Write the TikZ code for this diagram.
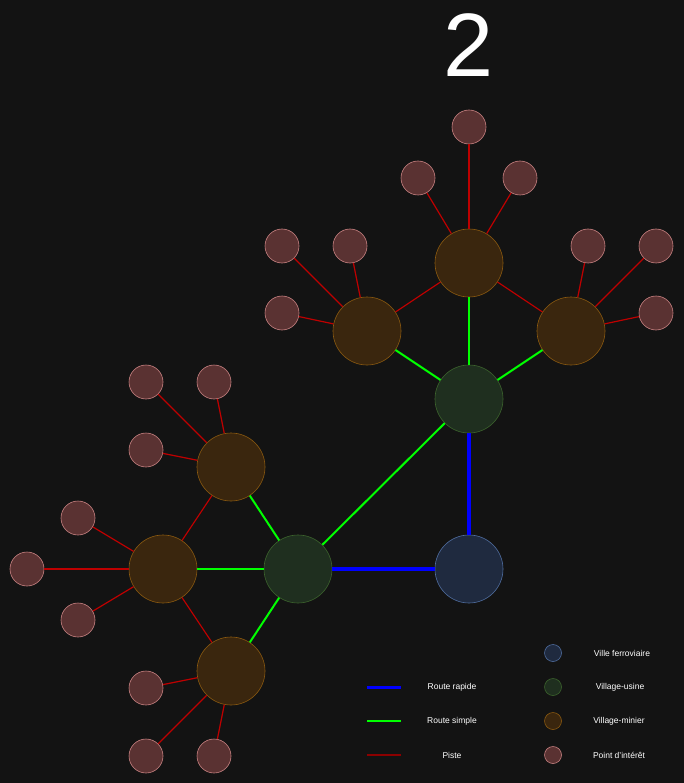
\documentclass[tikz,border=0pt]{standalone}
\usepackage{fontspec}
\setmainfont{Liberation Sans}
\definecolor{bg}{RGB}{19,19,19}
\definecolor{railf}{RGB}{31,42,63}\definecolor{raild}{RGB}{80,110,160}
\definecolor{factf}{RGB}{31,47,31}\definecolor{factd}{RGB}{60,100,45}
\definecolor{minef}{RGB}{58,38,14}\definecolor{mined}{RGB}{140,90,16}
\definecolor{poif}{RGB}{90,50,50}\definecolor{poid}{RGB}{200,130,130}
\definecolor{pistec}{RGB}{190,0,0}\definecolor{pistel}{RGB}{140,0,0}
\begin{document}
\begin{tikzpicture}[x=1pt,y=-1pt,
 rail/.style={circle,minimum size=68pt,inner sep=0,fill=railf,draw=raild,line width=0.6pt},
 fact/.style={circle,minimum size=68pt,inner sep=0,fill=factf,draw=factd,line width=0.6pt},
 mine/.style={circle,minimum size=68pt,inner sep=0,fill=minef,draw=mined,line width=0.6pt},
 poi/.style={circle,minimum size=34pt,inner sep=0,fill=poif,draw=poid,line width=0.6pt},
 fast/.style={draw=blue,line width=4pt},
 simple/.style={draw=green,line width=2pt},
 piste/.style={draw=pistec,line width=1.2pt},
 lab/.style={text=white,font=\fontsize{8.5}{10}\selectfont}]
\fill[bg] (0,0) rectangle (684,783);
\useasboundingbox (0,0) rectangle (684,783);
\node[text=white,font=\fontsize{90}{90}\selectfont] (title) at (469,45) {2};
\node[rail] (R) at (469,569) {};
\node[fact] (F1) at (469,399) {};
\node[fact] (F2) at (298,569) {};
\node[mine] (M1) at (469,263) {};
\node[mine] (M2) at (367,331) {};
\node[mine] (M3) at (571,331) {};
\node[mine] (M4) at (231,467) {};
\node[mine] (M5) at (163,569) {};
\node[mine] (M6) at (231,671) {};
\foreach \n/\x/\y in {a1/469/127,a2/418/178,a3/520/178,b1/282/246,b2/350/246,b3/282/313,c1/588/246,c2/656/246,c3/656/313,d1/146/382,d2/214/382,d3/146/450,e1/78/518,e2/27/569,e3/78/620,f1/146/688,f2/146/756,f3/214/756}
  \node[poi] (\n) at (\x,\y) {};
\foreach \a/\b in {M1/a1,M1/a2,M1/a3,M2/b1,M2/b2,M2/b3,M3/c1,M3/c2,M3/c3,M4/d1,M4/d2,M4/d3,M5/e1,M5/e2,M5/e3,M6/f1,M6/f2,M6/f3,M1/M2,M1/M3,M4/M5,M5/M6}
  \draw[piste] (\a) -- (\b);
\foreach \a/\b in {F1/M1,F1/M2,F1/M3,F1/F2,F2/M4,F2/M5,F2/M6}
  \draw[simple] (\a) -- (\b);
\draw[fast] (R) -- (F1);
\draw[fast] (R) -- (F2);
% legend
\coordinate (l1a) at (367,687); \coordinate (l1b) at (401,687);
\coordinate (l2a) at (367,721); \coordinate (l2b) at (401,721);
\coordinate (l3a) at (367,755); \coordinate (l3b) at (401,755);
\draw[fast,line width=3pt] (l1a) -- (l1b);
\draw[simple] (l2a) -- (l2b);
\draw[piste,draw=pistel] (l3a) -- (l3b);
\node[lab] (t1) at (452,687) {Route rapide};
\node[lab] (t2) at (452,721) {Route simple};
\node[lab] (t3) at (452,755) {Piste};
\node[rail,minimum size=17pt] (k1) at (553,653) {};
\node[fact,minimum size=17pt] (k2) at (553,687) {};
\node[mine,minimum size=17pt] (k3) at (553,721) {};
\node[poi,minimum size=17pt] (k4) at (553,755) {};
\node[lab] (u1) at (622,653) {Ville ferroviaire};
\node[lab] (u2) at (620,687) {Village-usine};
\node[lab] (u3) at (619,721) {Village-minier};
\node[lab] (u4) at (619,755) {Point d'intérêt};
\end{tikzpicture}
\end{document}
